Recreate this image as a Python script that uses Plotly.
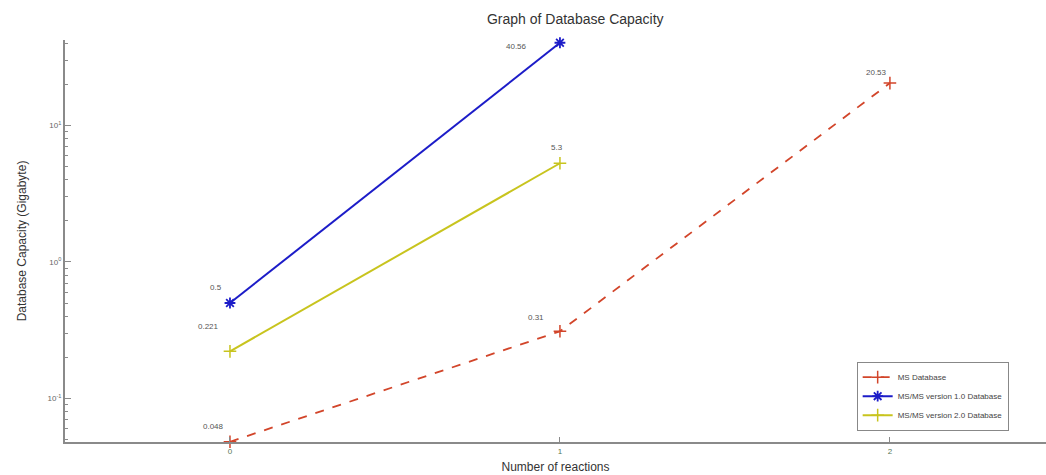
import math
import plotly.graph_objects as go

# ---- data ----
reactions_ms = [0, 1, 2]
ms_db = [0.048, 0.31, 20.53]
ms_db_labels = ["0.048", "0.31", "20.53"]

reactions_v1 = [0, 1]
msms_v1 = [0.5, 40.56]
msms_v1_labels = ["0.5", "40.56"]

reactions_v2 = [0, 1]
msms_v2 = [0.221, 5.3]
msms_v2_labels = ["0.221", "5.3"]

x_ticks = [0, 1, 2]
y_major = [0.1, 1, 10]
y_major_text = ["10<sup>-1</sup>", "10<sup>0</sup>", "10<sup>1</sup>"]

# ---- styling ----
RED = "#d2452a"
BLUE = "#1c1cc8"
YELLOW = "#c8c41e"
AXIS = "#8a8a8a"

fig = go.Figure()
fig.add_trace(go.Scatter(
    x=reactions_ms, y=ms_db, name="MS Database", mode="lines+markers",
    line=dict(color=RED, width=1.8, dash="dash"),
    marker=dict(symbol="cross-thin", size=9, line=dict(color=RED, width=1.5)),
    cliponaxis=False,
))
fig.add_trace(go.Scatter(
    x=reactions_v1, y=msms_v1, name="MS/MS version 1.0 Database", mode="lines+markers",
    line=dict(color=BLUE, width=2),
    marker=dict(symbol="asterisk-open", size=9, line=dict(color=BLUE, width=1.8)),
    cliponaxis=False,
))
fig.add_trace(go.Scatter(
    x=reactions_v2, y=msms_v2, name="MS/MS version 2.0 Database", mode="lines+markers",
    line=dict(color=YELLOW, width=2),
    marker=dict(symbol="cross-thin", size=9, line=dict(color=YELLOW, width=1.5)),
    cliponaxis=False,
))

# data labels (offsets in pixels)
label_sets = [
    (reactions_ms, ms_db, ms_db_labels, [(-16, 15), (-24, 14), (-13, 11)]),
    (reactions_v1, msms_v1, msms_v1_labels, [(-14, 16), (-43, -4)]),
    (reactions_v2, msms_v2, msms_v2_labels, [(-21, 25), (-3, 16)]),
]
annotations = []
for xs, ys, labels, offs in label_sets:
    for xv, yv, t, (dx, dy) in zip(xs, ys, labels, offs):
        annotations.append(dict(
            x=xv, y=math.log10(yv), xref="x", yref="y", text=t, showarrow=False,
            xshift=dx, yshift=dy, font=dict(size=8, color="#555555"),
        ))

y_minor = [m * d for d in [0.01, 0.1, 1, 10] for m in range(2, 10)]

fig.update_layout(
    width=1046, height=475,
    paper_bgcolor="white", plot_bgcolor="white",
    margin=dict(l=65, r=0, t=40, b=33),
    font=dict(family="Liberation Sans, Arial, sans-serif", color="#333333"),
    title=dict(text="Graph of Database Capacity", x=0.55, xanchor="center",
               y=0.97, yanchor="top", font=dict(size=14, color="#333333")),
    showlegend=True,
    legend=dict(x=0.807, y=0.114, xanchor="left", yanchor="middle",
                bgcolor="white", bordercolor="#888888", borderwidth=1,
                font=dict(size=8, color="#444444"), tracegroupgap=0,
                itemwidth=30),
    annotations=annotations,
)
fig.update_xaxes(
    range=[-0.5, 2.473], tickvals=x_ticks, ticktext=[str(v) for v in x_ticks],
    ticks="inside", ticklen=5, tickcolor=AXIS, showline=True, linecolor=AXIS,
    linewidth=2, showgrid=False, zeroline=False, tickfont=dict(size=8, color="#557755"),
    title=dict(text="Number of reactions", font=dict(size=12, color="#333333"), standoff=8),
)
fig.update_yaxes(
    type="log", range=[math.log10(0.0478), math.log10(42.5)],
    tickvals=y_major, ticktext=y_major_text,
    ticks="inside", ticklen=6, tickcolor=AXIS, showline=True, linecolor=AXIS,
    linewidth=2, showgrid=False, zeroline=False, tickfont=dict(size=8, color="#666666"),
    minor=dict(tickvals=y_minor, ticks="inside", ticklen=3, tickcolor=AXIS, showgrid=False),
    title=dict(text="Database Capacity (Gigabyte)", font=dict(size=12, color="#333333"), standoff=18),
)

fig.write_html("out.html", config={"displayModeBar": False},
               post_script="document.body.style.margin='0';document.body.style.overflow='hidden';")
